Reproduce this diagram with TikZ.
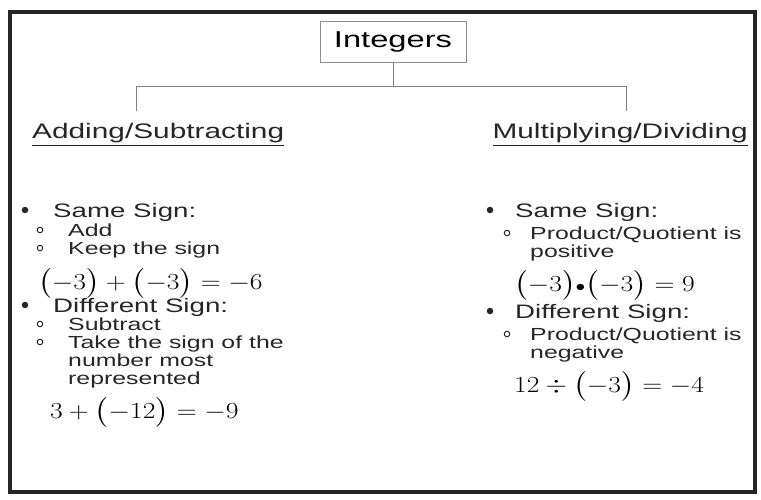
\RequirePackage{fix-cm}
\documentclass[tikz,border=0pt]{standalone}
\usepackage{amsmath}
\usepackage{fontspec}
\setmainfont{Liberation Sans}[FakeStretch=1.42]
\setmathrm{Liberation Serif}
\usepackage{graphicx}
\usetikzlibrary{positioning}
\newcommand{\weq}[1]{\scalebox{1.2}[1]{$#1$}}
\tikzset{
  frame/.style={
    draw = black!85,
    line width = 4pt
  },
  rootbox/.style={
    draw = black!45,
    thin,
    inner xsep = 14pt,
    minimum height = 41pt,
    font = \fontsize{23}{27}\selectfont
  },
  link/.style={
    draw = black!50,
    thin
  },
  heading/.style={
    anchor = base west,
    inner sep = 0pt,
    text = black!85,
    font = \fontsize{21}{25}\selectfont
  },
  item/.style={
    anchor = base west,
    inner sep = 0pt,
    text = black!85,
    font = \fontsize{19.5}{23}\selectfont
  },
  subitem/.style={
    anchor = base west,
    inner sep = 0pt,
    text = black!85,
    font = \fontsize{17.5}{21}\selectfont
  },
  eqn/.style={
    anchor = base west,
    inner sep = 0pt,
    font = \fontsize{23}{28}\selectfont
  },
  dot/.style={
    inner sep = 0pt,
    minimum size = 6.5pt,
    shape = circle,
    fill = black!85
  },
  ring/.style={
    inner sep = 0pt,
    minimum size = 5.5pt,
    shape = circle,
    draw = black!85,
    line width = 1pt
  },
}

\begin{document}
\begin{tikzpicture}[x=1pt,y=-1pt]
\useasboundingbox (0,0) rectangle (761,499);
\draw[frame] (10,12) rectangle (755,492);
\node[rootbox] (int) at (393,42) {Integers};
\coordinate (barL) at (136,86);
\coordinate (barR) at (626,86);
\coordinate (dropL) at (136,111);
\coordinate (dropR) at (626,111);
\draw[link] (int.south) -- (int.south |- barL);
\draw[link] (dropL) -- (barL) -- (barR) -- (dropR);
\node[heading] (add) at (32,138) {\underline{Adding/Subtracting}};
\node[heading, anchor=base east] (mul) at (748,138) {\underline{Multiplying/Dividing}};
% adding / subtracting
\node[dot] (lb1) at (25,210) {};
\node[item] (ls1) at (53,217) {Same Sign:};
		  \foreach \y/\t [count=\i] in {236/Add,254/Keep the sign}{
		    \node[ring] (lo\i) at (40,\y-6) {};
		    \node[subitem] (lt\i) at (68,\y) {\t}; }
\node[eqn] (leq1) at (38,289) {\weq{\bigl(-3\bigr)+\bigl(-3\bigr)=-6}};
\node[dot] (lb2) at (25,305) {};
\node[item] (ls2) at (53,312) {Different Sign:};
		  \foreach \y/\t [count=\i from 3] in {330/Subtract,348/Take the sign of the}{
		    \node[ring] (lo\i) at (40,\y-6) {};
		    \node[subitem] (lt\i) at (68,\y) {\t}; }
\node[subitem] (lt5) at (68,366) {number most};
\node[subitem] (lt6) at (68,384) {represented};
\node[eqn] (leq2) at (50,418) {\weq{3+\bigl(-12\bigr)=-9}};
% multiplying / dividing
\node[dot] (rb1) at (490,210) {};
\node[item] (rs1) at (515,217) {Same Sign:};
\node[ring] (ro1) at (507,233) {};
\node[subitem] (rt1) at (530,239) {Product/Quotient is};
\node[subitem] (rt2) at (530,257) {positive};
\node[eqn] (req1) at (514,291) {\weq{\bigl(-3\bigr)\mathord{\scriptstyle\bullet}\bigl(-3\bigr)=9}};
\node[dot] (rb2) at (490,311) {};
\node[item] (rs2) at (515,318) {Different Sign:};
\node[ring] (ro2) at (507,334) {};
\node[subitem] (rt3) at (530,340) {Product/Quotient is};
\node[subitem] (rt4) at (530,358) {negative};
\node[eqn] (req2) at (514,392) {\weq{12\div\bigl(-3\bigr)=-4}};
\end{tikzpicture}
\end{document}
